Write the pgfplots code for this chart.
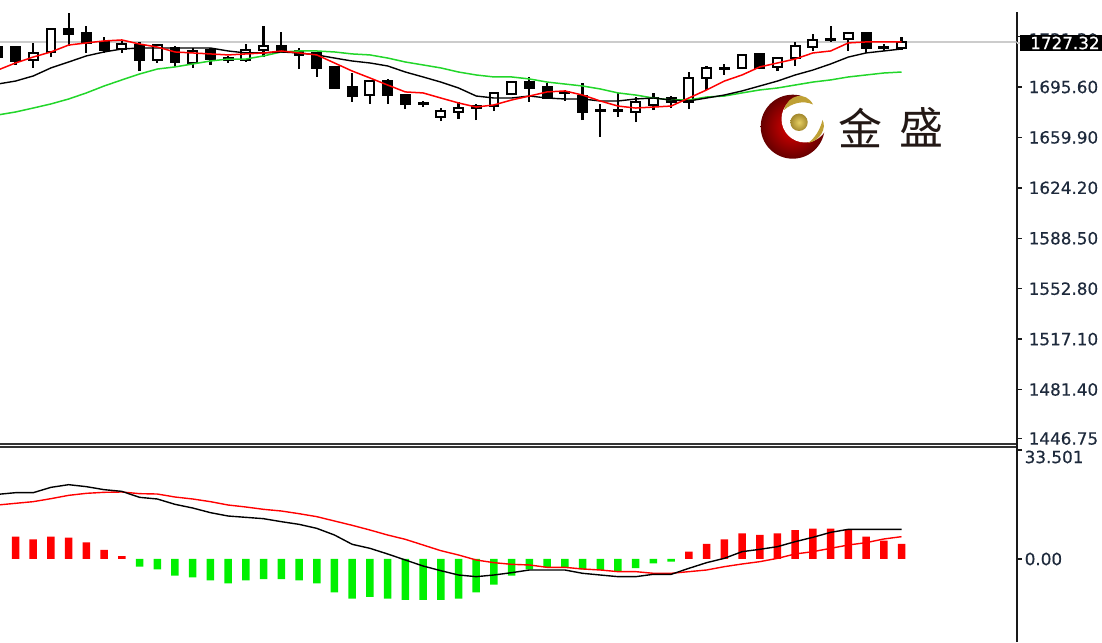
\documentclass[border=0pt]{standalone}
\usepackage{fontspec}
\setmainfont{DejaVu Sans}
\newfontfamily\lab[FakeBold=0.5]{DejaVu Sans}
\newfontfamily\cjk{Noto Sans CJK SC}
\usepackage{pgfplots}
\usepackage{pgfplotstable}
\pgfplotsset{compat=1.18}
\definecolor{tk}{HTML}{1E2A3C}
\definecolor{magreen}{HTML}{22D62A}
\definecolor{barg}{HTML}{00F000}
\definecolor{gold}{HTML}{BFA035}
\definecolor{goldlight}{HTML}{E6CF62}
\definecolor{logotext}{HTML}{231815}

\pgfplotstableread{
i    red    black  green
-1 1707.6 1697.7 1675.8
0  1712.6 1699.8 1677.9
1  1716.8 1703.4 1680.7
2  1720.4 1709.1 1683.6
3  1725.3 1713.3 1687.1
4  1726.8 1717.6 1691.4
5  1728.2 1720.4 1696.3
6  1728.9 1722.5 1700.6
7  1726.0 1723.2 1704.8
8  1723.9 1723.2 1708.3
9  1720.4 1723.2 1709.8
10 1719.7 1723.2 1711.9
11 1719.0 1723.2 1714.0
12 1718.3 1721.1 1715.4
13 1719.0 1719.7 1715.4
14 1719.7 1719.7 1717.6
15 1721.1 1720.4 1720.4
16 1719.7 1719.7 1721.1
17 1718.3 1718.3 1721.1
18 1712.6 1716.1 1720.4
19 1706.9 1714.0 1719.0
20 1702.0 1712.6 1718.3
21 1697.0 1710.5 1716.1
22 1692.1 1706.2 1713.3
23 1691.4 1702.7 1711.2
24 1687.8 1699.1 1709.1
25 1684.3 1694.9 1706.2
26 1681.4 1689.2 1704.1
27 1682.9 1687.8 1702.7
28 1686.4 1687.8 1702.7
29 1689.2 1689.2 1701.3
30 1692.1 1687.8 1699.1
31 1692.8 1687.1 1697.7
32 1689.9 1687.1 1696.3
33 1685.7 1685.7 1694.2
34 1682.1 1685.7 1691.4
35 1680.7 1687.1 1689.9
36 1681.4 1687.8 1687.8
37 1682.1 1686.4 1686.4
38 1687.8 1685.7 1686.4
39 1693.5 1687.8 1688.5
40 1699.8 1689.9 1689.2
41 1704.1 1692.8 1691.4
42 1709.8 1696.3 1693.5
43 1712.6 1699.8 1694.9
44 1715.4 1704.1 1697.0
45 1719.7 1707.6 1699.1
46 1721.1 1711.9 1700.6
47 1726.8 1716.8 1702.7
48 1727.5 1719.7 1704.1
49 1727.5 1721.1 1705.5
50 1727.5 1722.5 1706.2
}\matable

\pgfplotstableread{
i  macd signal
-1 19.87 16.59
0  20.38 17.11
1  20.38 17.62
2  22.02 18.54
3  22.84 19.56
4  22.23 20.18
5  21.31 20.49
6  20.79 20.59
7  18.95 20.08
8  18.44 19.97
9  16.80 19.05
10 15.67 18.44
11 14.24 17.62
12 13.21 16.59
13 12.80 15.98
14 12.39 15.26
15 11.47 14.75
16 10.65 13.93
17 9.42  13.01
18 7.37  11.68
19 4.51  10.35
20 3.28  8.91
21 1.54  7.37
22 -0.31 6.04
23 -2.15 4.30
24 -3.59 2.56
25 -4.92 1.23
26 -5.43 -0.31
27 -4.92 -1.13
28 -4.20 -1.64
29 -3.38 -1.84
30 -3.38 -2.56
31 -3.38 -2.56
32 -4.40 -3.07
33 -4.92 -3.38
34 -5.43 -3.89
35 -5.43 -3.89
36 -4.71 -4.40
37 -4.71 -4.40
38 -2.87 -3.89
39 -1.13 -3.38
40 0.20  -2.36
41 2.25  -1.54
42 2.97  -0.82
43 3.79  0.20
44 5.33  1.54
45 6.66  2.25
46 8.19  3.28
47 9.12  4.30
48 9.12  5.02
49 9.12  6.15
50 9.12  6.86
}\macdtable

\pgfplotstableread{
i h
0 6.85
1 6.05
2 6.85
3 6.55
4 5.13
5 2.77
6 0.92
38 2.24
39 4.61
40 6.05
41 7.90
42 7.38
43 7.90
44 8.91
45 9.31
46 9.31
47 9.13
48 6.85
49 5.62
50 4.61
}\histpos

\pgfplotstableread{
i h
7 -2.37
8 -3.17
9 -5.13
10 -5.62
11 -6.55
12 -7.47
13 -6.55
14 -6.15
15 -6.15
16 -6.55
17 -7.47
18 -10.23
19 -12.20
20 -11.68
21 -12.20
22 -12.60
23 -12.60
24 -12.60
25 -12.20
26 -10.23
27 -7.90
28 -5.13
29 -3.17
30 -2.55
31 -2.55
32 -3.17
33 -3.38
34 -3.90
35 -2.77
36 -1.32
37 -0.83
}\histneg

% position, low, body bottom, body top, high, body colour
\newcommand\Cdl[6]{%
  \pgfmathsetmacro\xa{#1-0.25}\pgfmathsetmacro\xb{#1+0.25}%
  \addplot[draw=black, line width=2.2pt] coordinates {(#1,#2) (#1,#5)};
  \addplot[draw=black, fill=#6, line width=2pt, line join=miter] coordinates
    {(\xa,#3) (\xb,#3) (\xb,#4) (\xa,#4)} -- cycle;
}

\begin{document}
\begin{tikzpicture}
\path[use as bounding box] (0pt,0pt) rectangle (1102pt,642pt);

\begin{axis}[
  at={(0pt,198pt)}, anchor=south west, scale only axis,
  width=1016.5pt, height=432pt,
  xmin=-0.875, xmax=56.49, ymin=1442.84, ymax=1748.70,
  axis y line*=right, axis x line=none,
  y axis line style={-, line width=2pt, color=black!90},
  ytick={1446.75,1481.40,1517.10,1552.80,1588.50,1624.20,1659.90,1695.60},
  yticklabels={1446.75,1481.40,1517.10,1552.80,1588.50,1624.20,1659.90,1695.60},
  extra y ticks={1731.30}, extra y tick labels={1731.30},
  extra y tick style={yticklabel style={yshift=-3pt}},
  ytick align=outside, major tick length=5pt,
  tick style={line width=1.5pt, color=black!90},
  yticklabel style={font=\lab\fontsize{16.8}{17}\selectfont, text=tk, anchor=west, inner sep=0pt, xshift=7pt},
]
\addplot[color=black!20, line width=1.8pt, forget plot] coordinates {(-0.875,1727.32) (56.49,1727.32)};

\Cdl{-1}{1714.7}{1716.8}{1723.9}{1725.3}{black}
\Cdl{0}{1711.2}{1714.0}{1723.9}{1723.9}{black}
\Cdl{1}{1709.1}{1714.7}{1719.7}{1726.8}{white}
\Cdl{2}{1716.8}{1720.4}{1736.7}{1737.4}{white}
\Cdl{3}{1724.6}{1733.1}{1736.7}{1748.0}{black}
\Cdl{4}{1719.7}{1726.8}{1733.8}{1738.8}{black}
\Cdl{5}{1719.7}{1721.8}{1727.5}{1731.0}{black}
\Cdl{6}{1719.7}{1722.5}{1726.0}{1728.2}{white}
\Cdl{7}{1706.9}{1714.7}{1725.3}{1727.5}{black}
\Cdl{8}{1712.6}{1714.7}{1725.3}{1725.3}{white}
\Cdl{9}{1709.8}{1713.3}{1723.2}{1724.6}{black}
\Cdl{10}{1709.1}{1712.6}{1721.1}{1723.2}{white}
\Cdl{11}{1711.2}{1715.4}{1721.8}{1723.2}{black}
\Cdl{12}{1712.6}{1714.7}{1716.1}{1717.6}{black}
\Cdl{13}{1713.3}{1714.7}{1721.8}{1726.0}{white}
\Cdl{14}{1716.8}{1721.8}{1724.6}{1738.8}{white}
\Cdl{15}{1720.4}{1720.4}{1724.6}{1734.5}{black}
\Cdl{16}{1708.3}{1718.3}{1721.1}{1723.2}{black}
\Cdl{17}{1702.7}{1709.1}{1719.7}{1719.7}{black}
\Cdl{18}{1694.2}{1694.9}{1709.8}{1709.8}{black}
\Cdl{19}{1685.0}{1689.2}{1695.6}{1705.5}{black}
\Cdl{20}{1683.6}{1689.9}{1699.8}{1699.8}{white}
\Cdl{21}{1683.6}{1689.9}{1699.8}{1701.3}{black}
\Cdl{22}{1680.0}{1683.6}{1689.9}{1689.9}{black}
\Cdl{23}{1681.4}{1683.6}{1684.3}{1685.7}{black}
\Cdl{24}{1671.5}{1674.4}{1678.6}{1680.7}{white}
\Cdl{25}{1672.9}{1677.9}{1680.7}{1685.0}{white}
\Cdl{26}{1672.2}{1680.7}{1682.1}{1683.6}{black}
\Cdl{27}{1678.6}{1682.1}{1691.4}{1692.1}{white}
\Cdl{28}{1689.9}{1690.6}{1699.1}{1699.8}{white}
\Cdl{29}{1685.0}{1694.9}{1699.1}{1702.7}{black}
\Cdl{30}{1687.8}{1687.8}{1695.6}{1698.4}{black}
\Cdl{31}{1685.7}{1691.4}{1692.1}{1693.5}{black}
\Cdl{32}{1672.2}{1677.9}{1689.2}{1698.4}{black}
\Cdl{33}{1660.2}{1678.6}{1679.3}{1683.6}{black}
\Cdl{34}{1674.4}{1678.6}{1679.3}{1691.4}{black}
\Cdl{35}{1670.8}{1677.9}{1685.0}{1688.5}{white}
\Cdl{36}{1679.3}{1682.9}{1687.8}{1691.4}{white}
\Cdl{37}{1680.7}{1685.0}{1687.8}{1689.2}{black}
\Cdl{38}{1680.0}{1685.0}{1702.0}{1706.2}{white}
\Cdl{39}{1693.5}{1702.0}{1709.1}{1710.5}{white}
\Cdl{40}{1704.1}{1708.3}{1709.1}{1711.9}{black}
\Cdl{41}{1709.1}{1709.1}{1718.3}{1718.3}{white}
\Cdl{42}{1708.3}{1709.1}{1719.0}{1719.7}{black}
\Cdl{43}{1706.9}{1709.8}{1716.1}{1716.8}{white}
\Cdl{44}{1710.5}{1716.1}{1724.6}{1727.5}{white}
\Cdl{45}{1721.1}{1723.9}{1728.9}{1733.1}{white}
\Cdl{46}{1727.5}{1728.9}{1729.6}{1738.8}{black}
\Cdl{47}{1721.1}{1729.6}{1733.8}{1734.5}{white}
\Cdl{48}{1719.7}{1723.2}{1733.8}{1734.5}{black}
\Cdl{49}{1721.1}{1723.2}{1723.9}{1726.0}{black}
\Cdl{50}{1721.8}{1723.2}{1727.5}{1731.0}{white}

\addplot[color=magreen, line width=1.5pt, no marks] table[x=i, y=green] {\matable};
\addplot[color=black, line width=1.4pt, no marks] table[x=i, y=black] {\matable};
\addplot[color=red, line width=1.5pt, no marks] table[x=i, y=red] {\matable};
\end{axis}

\begin{axis}[
  at={(0pt,0pt)}, anchor=south west, scale only axis,
  width=1016.5pt, height=195pt,
  xmin=-0.875, xmax=56.49, ymin=-25.51, ymax=34.42,
  axis y line*=right, axis x line=none,
  y axis line style={-, line width=2pt, color=black!90},
  ytick={0}, yticklabels={0.00},
  extra y ticks={33.501}, extra y tick labels={33.501},
  extra y tick style={yticklabel style={yshift=-7pt}},
  ytick align=outside, major tick length=5pt,
  tick style={line width=1.5pt, color=black!90},
  yticklabel style={font=\lab\fontsize{16.8}{17}\selectfont, text=tk, anchor=west, inner sep=0pt, xshift=3pt},
]
\addplot[ybar, bar width=7.5pt, bar shift=0pt, fill=red, draw=none] table[x=i, y=h] {\histpos};
\addplot[ybar, bar width=7.5pt, bar shift=0pt, fill=barg, draw=none] table[x=i, y=h] {\histneg};
\addplot[color=red, line width=1.4pt, no marks] table[x=i, y=signal] {\macdtable};
\addplot[color=black, line width=1.4pt, no marks] table[x=i, y=macd] {\macdtable};
\end{axis}

\begin{scope}[x=1pt,y=1pt]
% panel separators and the continuous right-hand rule
\draw[line width=1.7pt, color=black!80] (0,198) -- (1017,198);
\draw[line width=1.7pt, color=black!80] (0,195) -- (1017,195);
\draw[line width=2pt, color=black!90] (1016.5,199) -- (1016.5,194);

% current-price flag
\fill[black] (1020,591) rectangle (1102,607);
\draw[line width=1.5pt, color=black!20] (1017,599) -- (1020,599);
\node[anchor=west, inner sep=0pt, text=white, font=\lab\fontsize{16.8}{17}\selectfont] at (1030,599) {1727.32};

% logo
\shade[inner color=red!90!black, outer color=red!40!black] (792.7,515.3) circle (32);
\fill[white] (805,523) circle (23.5);
\fill[white] (812,534) -- (826,526) -- (826,510) -- (812,510) -- cycle;
\shade[inner color=goldlight, outer color=gold!85!black] (799,519.7) circle (8.7);
\fill[gold] (784,532) .. controls (788,548) and (806,551) .. (813,537.5)
  .. controls (803,542) and (792,539) .. (784,532) -- cycle;
\fill[gold] (808,499) .. controls (820,501) and (827,514) .. (822.5,522)
  .. controls (820,512) and (815,504) .. (808,499) -- cycle;
\node[inner sep=0pt, text=logotext, font=\cjk\fontsize{44}{44}\selectfont] at (860,514.5) {金};
\node[inner sep=0pt, text=logotext, font=\cjk\fontsize{44}{44}\selectfont] at (921.5,514.5) {盛};
\end{scope}
\end{tikzpicture}
\end{document}
